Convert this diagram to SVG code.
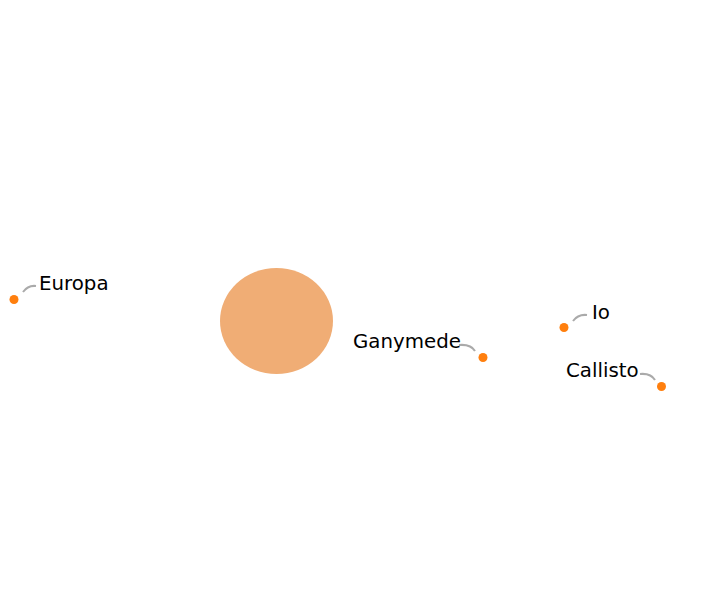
<svg xmlns="http://www.w3.org/2000/svg" width="720" height="604" viewBox="0 0 720 604">
<style>
.dot{fill:#ff7f0e}
.lbl{font-family:"DejaVu Sans",sans-serif;font-size:19.8px;fill:#000}
.lead{fill:none;stroke:#aaaaaa;stroke-width:2}
</style>
<rect width="720" height="604" fill="#fff"/>
<g id="jupiter"><ellipse cx="276.5" cy="321" rx="56.5" ry="53" fill="#f0ad75"/></g>
<g id="connectors">
<path class="lead" d="M23,292 Q28,285 36,286"/>
<path class="lead" d="M459,345 Q471,344 475,351"/>
<path class="lead" d="M573,321 Q578,314 587,315"/>
<path class="lead" d="M640,374 Q651,373 655,380"/>
</g>
<g id="europa"><circle class="dot" cx="14" cy="299.5" r="4.5"/><text class="lbl" x="39" y="290">Europa</text></g>
<g id="ganymede"><circle class="dot" cx="483" cy="357.5" r="4.5"/><text class="lbl" x="353" y="348">Ganymede</text></g>
<g id="io"><circle class="dot" cx="564" cy="327.5" r="4.5"/><text class="lbl" x="592" y="319">Io</text></g>
<g id="callisto"><circle class="dot" cx="661.5" cy="386.5" r="4.5"/><text class="lbl" x="566" y="377">Callisto</text></g>
</svg>
